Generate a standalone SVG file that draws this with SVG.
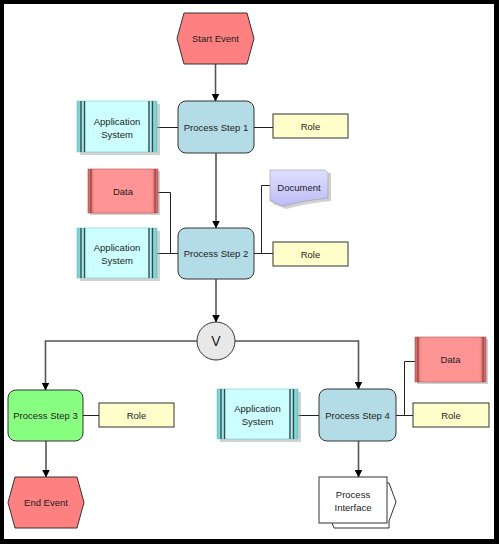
<svg xmlns="http://www.w3.org/2000/svg" width="499" height="544" viewBox="0 0 499 544">
<style>
text{font-family:"Liberation Sans",Arial,sans-serif;font-size:9.5px;fill:#222;text-anchor:middle;dominant-baseline:central}
.ev{fill:#FF8080;stroke:#333;stroke-width:1}
.ps{fill:#B4DCE6;stroke:#333;stroke-width:1}
.ps3{fill:#88FF80;stroke:#333;stroke-width:1}
.role{fill:#FFFFCC;stroke:#333;stroke-width:1}
.flow{fill:none;stroke:#555;stroke-width:1.6;marker-end:url(#ah)}
.assoc{fill:none;stroke:#222;stroke-width:1}
.shadow{fill:#999;opacity:0.45}
.appline{stroke:#2f4f4f;stroke-width:1.4}
.dataline{stroke:#7a3030;stroke-width:1}
</style>
<defs>
<marker id="ah" markerUnits="userSpaceOnUse" markerWidth="8" markerHeight="8" refX="7.5" refY="4" orient="auto">
<path d="M0,0 L8,4 L0,8 Z" fill="#000"/>
</marker>
<linearGradient id="app" x1="0" x2="1" y1="0" y2="0">
<stop offset="0" stop-color="#6CC8C8"/>
<stop offset="0.12" stop-color="#CCFFFF"/>
<stop offset="0.88" stop-color="#CCFFFF"/>
<stop offset="1" stop-color="#6CC8C8"/>
</linearGradient>
<linearGradient id="data" x1="0" x2="1" y1="0" y2="0">
<stop offset="0" stop-color="#C86464"/>
<stop offset="0.1" stop-color="#FF9494"/>
<stop offset="0.9" stop-color="#FF9494"/>
<stop offset="1" stop-color="#C86464"/>
</linearGradient>
<linearGradient id="doc" x1="0" x2="0" y1="0" y2="1">
<stop offset="0" stop-color="#E0E0FF"/>
<stop offset="1" stop-color="#BCBCF4"/>
</linearGradient>
</defs>
<rect x="0" y="0" width="499" height="544" fill="#000"/>
<rect x="4" y="4" width="490" height="535" fill="#fff"/>

<g id="connectors">
<path class="flow" d="M215.5,64 L215.5,101"/>
<path class="flow" d="M216,153 L216,228"/>
<path class="flow" d="M216,279 L216,322"/>
<path class="flow" d="M197,341 L45.5,341 L45.5,390"/>
<path class="flow" d="M235,341 L358.5,341 L358.5,389"/>
<path class="flow" d="M46,441 L46,477"/>
<path class="flow" d="M358.5,441 L358.5,477"/>
<path class="assoc" d="M157,127.5 L178,127.5"/>
<path class="assoc" d="M254,127.5 L273,127.5"/>
<path class="assoc" d="M157,253.5 L178,253.5"/>
<path class="assoc" d="M158,192.5 L170.5,192.5 L170.5,253.5"/>
<path class="assoc" d="M254,253.5 L273,253.5"/>
<path class="assoc" d="M261.5,253.5 L261.5,185.5 L270,185.5"/>
<path class="assoc" d="M83,415.5 L99,415.5"/>
<path class="assoc" d="M298,415.5 L319,415.5"/>
<path class="assoc" d="M396,415.5 L413,415.5"/>
<path class="assoc" d="M404.5,415.5 L404.5,361.5 L415,361.5"/>
</g>

<g id="start-event">
<polygon class="ev" points="184,13 247,13 254,38.5 247,64 184,64 177,38.5"/>
<text x="215.5" y="38.5">Start Event</text>
</g>

<g id="process-step-1">
<rect class="ps" x="178" y="101" width="76" height="52" rx="8"/>
<text x="216" y="127">Process Step 1</text>
</g>
<g id="role-1">
<rect class="role" x="273" y="114" width="75" height="24"/>
<text x="310.5" y="126">Role</text>
</g>
<g id="app-system-1">
<rect class="shadow" x="80" y="104" width="80" height="51"/>
<rect x="77" y="101" width="80" height="51" fill="url(#app)" stroke="#7cc" stroke-width="0.6"/>
<line class="appline" x1="81" y1="101" x2="81" y2="152"/>
<line class="appline" x1="84.5" y1="101" x2="84.5" y2="152"/>
<line class="appline" x1="149" y1="101" x2="149" y2="152"/>
<line class="appline" x1="152.5" y1="101" x2="152.5" y2="152"/>
<text x="117" y="121">Application</text>
<text x="117" y="134">System</text>
</g>

<g id="data-1">
<rect class="shadow" x="90" y="171" width="70" height="44"/>
<rect x="88" y="169" width="70" height="44" fill="url(#data)" stroke="#a55" stroke-width="0.6"/>
<line class="dataline" x1="91" y1="169" x2="91" y2="213"/>
<line class="dataline" x1="155" y1="169" x2="155" y2="213"/>
<text x="123" y="191">Data</text>
</g>
<g id="app-system-2">
<rect class="shadow" x="80" y="231" width="80" height="50"/>
<rect x="77" y="228" width="80" height="50" fill="url(#app)" stroke="#7cc" stroke-width="0.6"/>
<line class="appline" x1="81" y1="228" x2="81" y2="278"/>
<line class="appline" x1="84.5" y1="228" x2="84.5" y2="278"/>
<line class="appline" x1="149" y1="228" x2="149" y2="278"/>
<line class="appline" x1="152.5" y1="228" x2="152.5" y2="278"/>
<text x="117" y="247">Application</text>
<text x="117" y="260">System</text>
</g>
<g id="process-step-2">
<rect class="ps" x="178" y="228" width="76" height="51" rx="8"/>
<text x="216" y="253.5">Process Step 2</text>
</g>
<g id="document">
<path class="shadow" d="M273,173 L331,173 L331,201 Q308,203 286,209 L273,204 Z"/>
<path d="M270,170 L325,170 L328,173 L328,198 Q305,200 283,206 L270,201 Z" fill="url(#doc)" stroke="#99a" stroke-width="0.6"/>
<text x="299" y="187">Document</text>
</g>
<g id="role-2">
<rect class="role" x="273" y="242" width="75" height="24"/>
<text x="310.5" y="254">Role</text>
</g>

<g id="xor-gateway">
<circle cx="216" cy="341" r="19" fill="#E8E8E8" stroke="#333" stroke-width="1"/>
<text x="216" y="341" style="font-size:14px">V</text>
</g>

<g id="process-step-3">
<rect class="ps3" x="8" y="390" width="75" height="51" rx="8"/>
<text x="45.5" y="415.5">Process Step 3</text>
</g>
<g id="role-3">
<rect class="role" x="99" y="403" width="75" height="24"/>
<text x="136.5" y="415">Role</text>
</g>
<g id="end-event">
<polygon class="ev" points="15,477 77,477 84,502.5 77,528 15,528 8,502.5"/>
<text x="46" y="502.5">End Event</text>
</g>

<g id="app-system-3">
<rect class="shadow" x="220" y="392" width="81" height="50"/>
<rect x="217" y="389" width="81" height="50" fill="url(#app)" stroke="#7cc" stroke-width="0.6"/>
<line class="appline" x1="221" y1="389" x2="221" y2="439"/>
<line class="appline" x1="224.5" y1="389" x2="224.5" y2="439"/>
<line class="appline" x1="290" y1="389" x2="290" y2="439"/>
<line class="appline" x1="293.5" y1="389" x2="293.5" y2="439"/>
<text x="257.5" y="408">Application</text>
<text x="257.5" y="421">System</text>
</g>
<g id="process-step-4">
<rect class="ps" x="319" y="389" width="77" height="52" rx="8"/>
<text x="357.5" y="415">Process Step 4</text>
</g>
<g id="data-2">
<rect class="shadow" x="417" y="339" width="71" height="45"/>
<rect x="415" y="337" width="71" height="45" fill="url(#data)" stroke="#a55" stroke-width="0.6"/>
<line class="dataline" x1="418" y1="337" x2="418" y2="382"/>
<line class="dataline" x1="483" y1="337" x2="483" y2="382"/>
<text x="450.5" y="359.5">Data</text>
</g>
<g id="role-4">
<rect class="role" x="413" y="403" width="76" height="24"/>
<text x="451" y="415">Role</text>
</g>
<g id="process-interface">
<path d="M387,483 L389,483 L396,502 L389,521 L389,528 L334,528 L332,523" fill="#fff" stroke="#333" stroke-width="1"/>
<rect x="319" y="477" width="68" height="46" fill="#fff" stroke="#333" stroke-width="1"/>
<text x="353" y="494">Process</text>
<text x="353" y="507">Interface</text>
</g>
</svg>
